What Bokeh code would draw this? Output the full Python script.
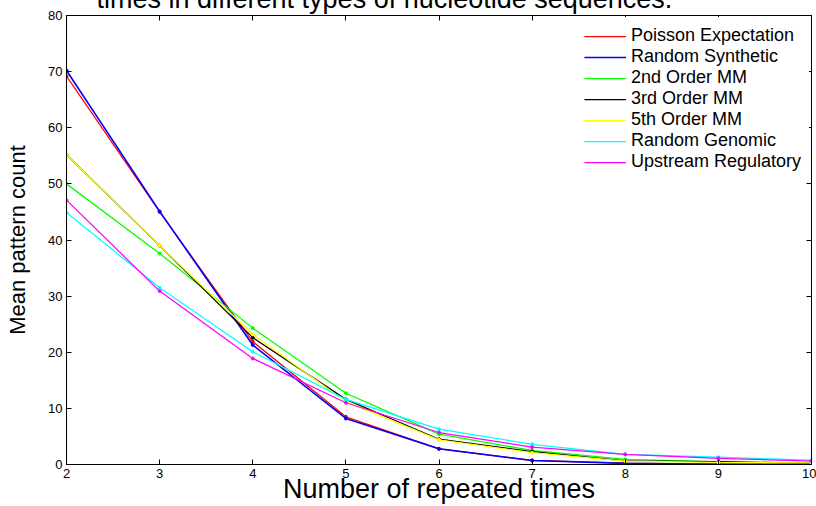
import math
from bokeh.plotting import figure
from bokeh.models import Legend, LegendItem, Title, LinearAxis, FixedTicker, Range1d
from bokeh.embed import file_html
from bokeh.resources import INLINE

# ---- data ----
repeats = [2, 3, 4, 5, 6, 7, 8, 9, 10]
poisson = [69.2, 45.0, 21.9, 8.5, 2.8, 0.75, 0.25, 0.07, 0.02]
random_synthetic = [70.2, 45.1, 21.3, 8.2, 2.8, 0.7, 0.2, 0.05, 0.01]
mm2 = [50.0, 37.6, 24.3, 12.7, 5.4, 2.5, 0.9, 0.45, 0.3]
mm3 = [55.2, 39.0, 22.6, 11.6, 4.5, 2.3, 0.65, 0.5, 0.2]
mm5 = [55.2, 39.0, 23.2, 11.2, 4.4, 2.1, 0.6, 0.4, 0.3]
random_genomic = [44.9, 31.5, 20.1, 11.6, 6.3, 3.6, 1.8, 1.3, 0.8]
upstream = [47.1, 30.9, 18.9, 11.0, 5.7, 3.1, 1.8, 1.1, 0.6]

series_names = ["Poisson Expectation", "Random Synthetic", "2nd Order MM", "3rd Order MM",
                "5th Order MM", "Random Genomic", "Upstream Regulatory"]
series_values = [poisson, random_synthetic, mm2, mm3, mm5, random_genomic, upstream]
series_colors = ["#ff0000", "#0000ff", "#00ff00", "#000000", "#ffff00", "#00ffff", "#ff00ff"]

x_ticks = [2, 3, 4, 5, 6, 7, 8, 9, 10]
y_ticks = [0, 10, 20, 30, 40, 50, 60, 70, 80]

title_text = "times in different types of nucleotide sequences."
x_label = "Number of repeated times"
y_label = "Mean pattern count"

FONT = "Liberation Sans"
SHIFT = 25  # top part of the canvas is pushed above the window, as in the cropped original

p = figure(width=816, height=506 + SHIFT, output_backend="svg", toolbar_location=None,
           x_range=Range1d(2, 10), y_range=Range1d(0, 80),
           min_border_left=66, min_border_right=5, min_border_top=15 + SHIFT, min_border_bottom=42,
           styles={"margin-top": f"-{SHIFT}px"})
p.background_fill_color = "white"
p.border_fill_color = "white"
p.outline_line_color = "black"
p.grid.visible = False

def style_axis(ax, labels=True):
    ax.axis_line_color = "black"
    ax.major_tick_line_color = "black"
    ax.major_tick_in = 5
    ax.major_tick_out = 0
    ax.minor_tick_line_color = None
    ax.major_label_text_font = FONT
    if labels:
        ax.major_label_text_font_size = "13px"
        ax.major_label_text_color = "black"
        ax.major_label_standoff = 4
    else:
        ax.major_label_text_font_size = "1px"
        ax.major_label_text_color = None
        ax.major_label_standoff = 0

p.xaxis.ticker = FixedTicker(ticks=x_ticks)
p.yaxis.ticker = FixedTicker(ticks=y_ticks)
style_axis(p.xaxis[0])
style_axis(p.yaxis[0])

p.xaxis.axis_label = x_label
p.xaxis.axis_label_text_font = FONT
p.xaxis.axis_label_text_font_size = "27px"
p.xaxis.axis_label_text_font_style = "normal"
p.xaxis.axis_label_text_color = "black"
p.xaxis.axis_label_standoff = -7

p.yaxis.axis_label = y_label
p.yaxis.axis_label_text_font = FONT
p.yaxis.axis_label_text_font_size = "22px"
p.yaxis.axis_label_text_font_style = "normal"
p.yaxis.axis_label_text_color = "black"
p.yaxis.axis_label_standoff = 15

top_axis = LinearAxis(ticker=FixedTicker(ticks=x_ticks))
style_axis(top_axis, labels=False)
p.add_layout(top_axis, "above")
right_axis = LinearAxis(ticker=FixedTicker(ticks=y_ticks))
style_axis(right_axis, labels=False)
p.add_layout(right_axis, "right")

title = Title(text=title_text, align="left", offset=30, standoff=3, vertical_align="bottom",
              text_font=FONT, text_font_size="27px", text_font_style="normal", text_color="black")
p.add_layout(title, "above")

items = []
for name, vals, col in zip(series_names, series_values, series_colors):
    lw = 1.6 if col == "#0000ff" else 1.25
    r1 = p.line(repeats, vals, line_color=col, line_width=lw)
    p.scatter(repeats, vals, marker="circle", size=3, fill_color=col, line_color=col)
    items.append(LegendItem(label=name, renderers=[r1]))

legend = Legend(items=items, location="top_right")
legend.label_text_font = FONT
legend.label_text_font_size = "18px"
legend.label_text_color = "black"
legend.glyph_width = 42
legend.glyph_height = 16
legend.label_height = 16
legend.label_standoff = 5
legend.spacing = 0
legend.padding = 8
legend.margin = 2
legend.border_line_alpha = 0
legend.background_fill_alpha = 1
p.add_layout(legend)

open("out.html", "w").write(file_html(p, INLINE))
